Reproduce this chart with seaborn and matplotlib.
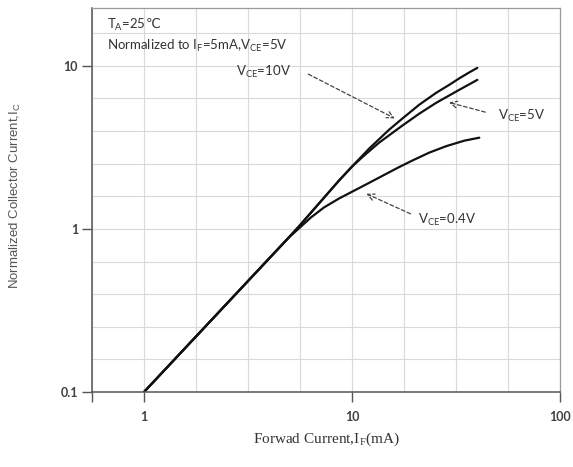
import numpy as np
import pandas as pd
import matplotlib
matplotlib.use('Agg')
import matplotlib.pyplot as plt
import seaborn as sns
from matplotlib.ticker import FixedLocator, NullFormatter

# values (IF in mA, normalized Ic)
if_vce10 = [1, 4.97, 5.555, 6.934, 8.659, 10.0, 12.08, 15.08, 17.42, 21.03, 25.40, 29.34, 32.79, 36.64, 40.05]
ic_vce10 = [0.1, 0.887, 1.036, 1.432, 1.980, 2.412, 3.108, 4.061, 4.741, 5.773, 6.838, 7.651, 8.385, 9.125, 9.723]
if_vce5 = [1, 4.97, 5.555, 6.934, 8.659, 10.0, 11.42, 13.50, 17.42, 21.03, 25.40, 32.79, 40.05]
ic_vce5 = [0.1, 0.887, 1.036, 1.432, 1.980, 2.412, 2.815, 3.382, 4.295, 5.087, 5.938, 7.133, 8.210]
if_vce04 = [1, 4.97, 5.555, 6.345, 7.331, 8.659, 11.17, 13.50, 16.48, 19.46, 23.50, 28.38, 34.66, 40.93]
ic_vce04 = [0.1, 0.887, 1.007, 1.176, 1.354, 1.537, 1.819, 2.065, 2.361, 2.624, 2.937, 3.219, 3.478, 3.628]

x_ticks = [10 ** -0.25, 1, 10, 100]
x_tick_labels = ['', '1', '10', '100']
y_ticks = [0.1, 1, 10]
y_tick_labels = ['0.1', '1', '10']

df = pd.concat([
    pd.DataFrame({'IF': if_vce10, 'Ic': ic_vce10, 'serie': 'VCE=10V'}),
    pd.DataFrame({'IF': if_vce5, 'Ic': ic_vce5, 'serie': 'VCE=5V'}),
    pd.DataFrame({'IF': if_vce04, 'Ic': ic_vce04, 'serie': 'VCE=0.4V'}),
])

sns.set_style('whitegrid')
plt.rcParams['font.family'] = ['Lato', 'DejaVu Sans']
plt.rcParams['mathtext.default'] = 'regular'

fig = plt.figure(figsize=(5.73, 4.67), dpi=100)
ax = fig.add_axes([92 / 573, 1 - 392 / 467, 468 / 573, 384 / 467])

sns.lineplot(data=df, x='IF', y='Ic', hue='serie', units='serie', estimator=None,
             palette=['#111111'] * 3, linewidth=1.6, legend=False, sort=False, ax=ax)

ax.set_xscale('log')
ax.set_yscale('log')
ax.set_xlim(10 ** -0.25, 100)
ax.set_ylim(0.1, 10 ** 1.355)

ax.set_xticks(x_ticks)
ax.set_xticklabels(x_tick_labels)
ax.set_yticks(y_ticks)
ax.set_yticklabels(y_tick_labels)
ax.xaxis.set_minor_locator(FixedLocator([10 ** (k / 4) for k in range(-1, 9)]))
ax.yaxis.set_minor_locator(FixedLocator([10 ** (k / 5) for k in range(-5, 8)]))
ax.xaxis.set_minor_formatter(NullFormatter())
ax.yaxis.set_minor_formatter(NullFormatter())

ax.grid(True, which='both', color='#d9d9d9', linewidth=0.8)
ax.tick_params(which='minor', length=0)
ax.tick_params(which='major', direction='out', length=7, width=1, color='#555555',
               labelsize=9, labelcolor='#404040')
ax.tick_params(axis='x', pad=7)
ax.tick_params(axis='y', pad=3)
ax.tick_params(bottom=True, left=True)
for lab in ax.get_xticklabels() + ax.get_yticklabels():
    lab.set_fontweight('bold')

for s in ['left', 'bottom']:
    ax.spines[s].set_color('#555555')
    ax.spines[s].set_linewidth(1.1)
for s in ['top', 'right']:
    ax.spines[s].set_color('#9a9a9a')
    ax.spines[s].set_linewidth(0.9)

ax.set_xlabel('Forwad Current,I$_{F}$(mA)', family='Liberation Serif', fontsize=11,
              color='#333333', labelpad=5)
ax.set_ylabel('Normalized Collector Current,I$_{C}$', family='Liberation Sans', fontsize=9.5,
              color='#555555')
ax.yaxis.set_label_coords(-0.148, 0.51)

txt = dict(transform=ax.transAxes, fontsize=9.5, color='#333333', va='center')
t_amb = ax.text(0.032, 0.956, 'T$_{A}$=25', **txt)
ax.annotate('℃', xy=(1, 0.5), xycoords=t_amb, va='center', ha='left',
            fontsize=9.5, color='#333333', family='DejaVu Sans')
ax.text(0.032, 0.901, 'Normalized to I$_{F}$=5mA,V$_{CE}$=5V', **txt)
ax.text(0.308, 0.833, 'V$_{CE}$=10V', **txt)
ax.text(0.868, 0.719, 'V$_{CE}$=5V', **txt)
ax.text(0.697, 0.448, 'V$_{CE}$=0.4V', **txt)

# dashed leader lines with open heads
arrows = [((16.5, 4.68), (0.457, 0.831)),
          ((28.4, 6.03), (0.846, 0.727)),
          ((11.4, 1.67), (0.686, 0.461))]
for tip, start in arrows:
    ax.annotate('', xy=tip, xycoords='data', xytext=start, textcoords='axes fraction',
                arrowprops=dict(arrowstyle='->', color='#444444', lw=0.9,
                                linestyle=(0, (3, 2)), mutation_scale=12))

fig.savefig('out.png', dpi=100)
